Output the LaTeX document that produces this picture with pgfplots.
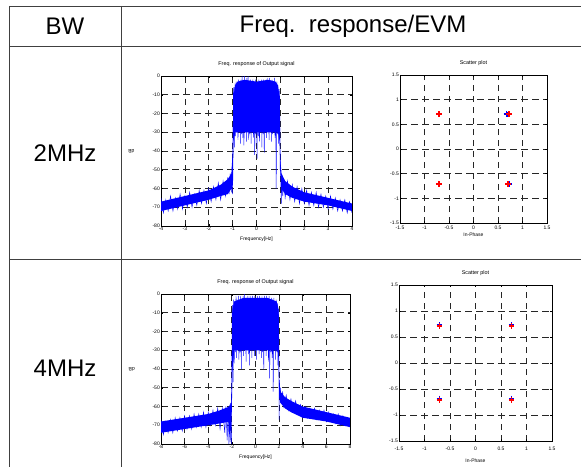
\documentclass[border=0pt]{standalone}
\usepackage{pgfplots}
\pgfplotsset{compat=1.18}
\usepackage{fontspec}
\setmainfont{Liberation Sans}
\def\tk{\fontsize{5}{6}\selectfont}
\def\tt{\fontsize{5.4}{6}\selectfont}
\pgfplotsset{
  mstyle/.style={
    scale only axis,
    axis line style={black, line width=0.9pt},
    grid=major,
    major grid style={black!85, line width=0.75pt, dash pattern=on 6.5pt off 4.5pt},
    tick style={black, line width=0.4pt},
    major tick length=2pt,
    tick align=inside,
    tick label style={font=\tk},
    xticklabel style={inner sep=1pt},
    yticklabel style={inner sep=1pt},
    title style={font=\tt, at={(axis description cs:0.5,1)}, anchor=south, yshift=2pt, inner sep=1pt},
    label style={font=\tk},
    clip=true,
  },
  freq/.style={
    mstyle,
    ymin=-80, ymax=0,
    ytick={-80,-70,-60,-50,-40,-30,-20,-10,0},
    yticklabels={-80,-70,-60,-50,-40,-30,-20,-10,0},
    title={Freq. response of Output signal},
    xlabel={Frequency[Hz]},
    xlabel style={at={(axis description cs:0.5,0)}, anchor=center, yshift=-13pt},
    ylabel style={at={(axis description cs:-0.155,0.5)}, anchor=center, rotate=90},
    ylabel={dB},
  },
  scat/.style={
    mstyle,
    xmin=-1.5, xmax=1.5, ymin=-1.5, ymax=1.5,
    xtick={-1.5,-1,-0.5,0,0.5,1,1.5},
    xticklabels={-1.5,-1,-0.5,0,0.5,1,1.5},
    ytick={-1.5,-1,-0.5,0,0.5,1,1.5},
    yticklabels={-1.5,-1,-0.5,0,0.5,1,1.5},
    title={Scatter plot},
    xlabel={In-Phase},
  },
}
\begin{document}
\begin{tikzpicture}[x=1pt,y=1pt]
\path[use as bounding box] (0,0) rectangle (586,467);
% table lines
\draw[line width=0.9pt, black!75]
  (9,461) -- (581,461)
  (9,421) -- (581,421)
  (9,208) -- (581,208)
  (9,461) -- (9,0)
  (121,461) -- (121,0);
\node[font=\fontsize{24}{28}\selectfont] at (65,441) {BW};
\node[font=\fontsize{24}{28}\selectfont] at (353,441) {Freq.\ \ response/EVM};
\node[font=\fontsize{24}{28}\selectfont] at (65,314) {2MHz};
\node[font=\fontsize{24}{28}\selectfont] at (65,99) {4MHz};

% ---------- plot 1: 2MHz spectrum ----------
\begin{axis}[freq, at={(161pt,241pt)}, anchor=south west, width=191pt, height=150pt,
  xmin=-4, xmax=4, xtick={-4,-3,-2,-1,0,1,2,3,4}, xticklabels={-4,-3,-2,-1,0,1,2,3,4}]
\addplot[fill=blue, draw=none] coordinates {
(-4,-67)(-3,-64)(-2,-61)(-1.5,-58)(-1.2,-55)(-1.05,-52)(-1.0,-40)(-0.97,-12)(-0.9,-5)(-0.8,-3)(-0.5,-2)(0,-3)(0.5,-2)(0.8,-3)(0.9,-5)(0.97,-12)(1.0,-45)(1.05,-52)(1.2,-56)(1.5,-59)(2,-62)(3,-65)(4,-68)
(4,-72)(3,-69)(2,-67)(1.5,-65)(1.2,-63)(1.05,-60)(1.0,-50)(0.97,-35)(0.9,-30)(0.5,-30)(0,-30)(-0.5,-30)(-0.9,-30)(-0.97,-35)(-1.0,-50)(-1.05,-60)(-1.2,-63)(-1.5,-64)(-2,-66)(-3,-69)(-4,-72)
} -- cycle;
\addplot[blue, line width=0.45pt] coordinates {
(-4.0,-65)(-3.9,-73)(-3.8,-66)(-3.7,-72)(-3.6,-64)(-3.5,-72)(-3.4,-65)(-3.3,-71)(-3.2,-63)(-3.1,-71)
(-3.0,-64)(-2.9,-70)(-2.8,-62)(-2.7,-70)(-2.6,-63)(-2.5,-69)(-2.4,-61)(-2.3,-68)(-2.2,-61)(-2.1,-68)
(-2.0,-60)(-1.9,-67)(-1.8,-59)(-1.7,-66)(-1.6,-57)(-1.5,-66)(-1.4,-56)(-1.3,-64)(-1.2,-54)(-1.15,-63)
(-1.1,-52)(-1.05,-62)(-1.02,-48)(-1.0,-63)(-0.98,-40)(-0.97,-10)
(-0.95,-6)(-0.925,-38)(-0.9,-4)(-0.875,-32)(-0.85,-3)(-0.825,-30)(-0.8,-5)(-0.775,-34)(-0.75,-2)(-0.725,-29)
(-0.7,-3)(-0.675,-36)(-0.65,-2)(-0.625,-31)(-0.6,0)(-0.575,-33)(-0.55,-4)(-0.525,-37)(-0.5,0)(-0.475,-30)
(-0.45,-3)(-0.425,-35)(-0.4,-1)(-0.375,-29)(-0.35,0)(-0.325,-34)(-0.3,-4)(-0.275,-31)(-0.25,-2)(-0.225,-36)
(-0.2,-5)(-0.175,-30)(-0.15,-2)(-0.125,-33)(-0.1,-4)(-0.075,-42)(-0.05,-2)(-0.025,-31)(0,-5)(0.025,-44)
(0.05,-3)(0.075,-32)(0.1,-2)(0.125,-35)(0.15,-4)(0.175,-30)(0.2,-2)(0.225,-38)(0.25,-3)(0.275,-31)
(0.3,-2)(0.325,-41)(0.35,-4)(0.375,-30)(0.4,-2)(0.425,-33)(0.45,-1)(0.475,-29)(0.5,-3)(0.525,-34)
(0.55,-1)(0.575,-30)(0.6,-4)(0.625,-35)(0.65,-2)(0.675,-31)(0.7,-3)(0.725,-30)(0.75,-1)(0.775,-33)
(0.8,-4)(0.825,-60)(0.85,-3)(0.875,-31)(0.9,-5)(0.925,-36)(0.95,-7)(0.97,-12)(0.99,-50)(1.0,-45)
(1.02,-56)(1.04,-68)(1.06,-54)(1.1,-64)(1.15,-55)(1.2,-65)(1.3,-56)(1.4,-66)(1.5,-58)(1.6,-67)
(1.7,-59)(1.8,-68)(1.9,-60)(2.0,-68)(2.1,-61)(2.2,-69)(2.3,-62)(2.4,-69)(2.5,-62)(2.6,-70)
(2.7,-63)(2.8,-70)(2.9,-64)(3.0,-71)(3.1,-64)(3.2,-71)(3.3,-65)(3.4,-72)(3.5,-66)(3.6,-72)
(3.7,-66)(3.8,-73)(3.9,-67)(4.0,-73)
};
\node[font=\tk, anchor=west] at (rel axis cs:0.92,-0.11) {x 10\textsuperscript{6}};
\end{axis}

% ---------- plot 2: 2MHz scatter ----------
\begin{axis}[scat, at={(400pt,244pt)}, anchor=south west, width=147pt, height=148pt,
  xticklabel style={yshift=-1.5pt},
  xlabel style={at={(axis description cs:0.5,0)}, anchor=center, yshift=-12pt}]
\addplot[only marks, mark=+, mark size=2.8pt, blue, line width=1.1pt] coordinates {
(0.67,0.71)(0.69,0.70)(-0.71,-0.70)(0.73,-0.71)(-0.70,0.71)
};
\addplot[only marks, mark=+, mark size=2.8pt, red, line width=1.5pt] coordinates {
(-0.707,0.707)(0.72,0.707)(-0.707,-0.707)(0.707,-0.707)
};
\end{axis}

% ---------- plot 3: 4MHz spectrum ----------
\begin{axis}[freq, at={(161pt,23pt)}, anchor=south west, width=189pt, height=150pt,
  xmin=-8, xmax=8, xtick={-8,-6,-4,-2,0,2,4,6,8}, xticklabels={-8,-6,-4,-2,0,2,4,6,8}]
\addplot[fill=blue, draw=none] coordinates {
(-8,-68)(-6,-66)(-4,-64)(-3,-62)(-2.2,-60)(-2.05,-58)(-2.0,-45)(-1.95,-8)(-1.8,-4)(-1,-2)(0,-2)(1,-2)(1.8,-4)(1.95,-8)(2.0,-45)(2.1,-52)(2.5,-55)(3,-57)(4,-60)(6,-63)(8,-66)
(8,-71)(6,-68)(4,-66)(3,-63)(2.5,-61)(2.1,-58)(2.0,-55)(1.95,-32)(1.8,-30)(0,-30)(-1.8,-30)(-1.95,-40)(-2.0,-60)(-2.1,-68)(-3,-69)(-4,-70)(-6,-72)(-8,-74)
} -- cycle;
\addplot[blue, line width=0.45pt] coordinates {
(-8.0,-67)(-7.8,-75)(-7.6,-68)(-7.4,-74)(-7.2,-67)(-7.0,-74)(-6.8,-66)(-6.6,-73)(-6.4,-66)(-6.2,-73)
(-6.0,-65)(-5.8,-72)(-5.6,-65)(-5.4,-72)(-5.2,-64)(-5.0,-71)(-4.8,-64)(-4.6,-71)(-4.4,-63)(-4.2,-71)
(-4.0,-63)(-3.8,-70)(-3.6,-62)(-3.4,-70)(-3.2,-61)(-3.0,-72)(-2.8,-61)(-2.6,-74)(-2.5,-60)(-2.4,-78)
(-2.3,-60)(-2.25,-80)(-2.2,-59)(-2.15,-79)(-2.1,-58)(-2.05,-80)(-2.02,-55)(-2.0,-48)(-1.98,-10)
(-1.95,-6)(-1.9,-47)(-1.85,-3)(-1.8,-37)(-1.75,-4)(-1.7,-31)(-1.65,-1)(-1.6,-34)(-1.55,-3)(-1.5,-30)
(-1.45,-1)(-1.4,-35)(-1.35,-4)(-1.3,-31)(-1.25,-1)(-1.2,-40)(-1.15,-3)(-1.1,-30)(-1.05,-1)(-1.0,-33)
(-0.95,0)(-0.9,-29)(-0.85,-3)(-0.8,-36)(-0.75,-2)(-0.7,-30)(-0.65,-1)(-0.6,-32)(-0.55,-4)(-0.5,-38)
(-0.45,-1)(-0.4,-30)(-0.35,-3)(-0.3,-34)(-0.25,-1)(-0.2,-29)(-0.15,-4)(-0.1,-33)(-0.05,-1)(0.0,-30)
(0.05,-3)(0.1,-35)(0.15,-1)(0.2,-29)(0.25,-4)(0.3,-32)(0.35,-1)(0.4,-30)(0.45,-3)(0.5,-34)
(0.55,-1)(0.6,-31)(0.65,-4)(0.7,-40)(0.75,-1)(0.8,-30)(0.85,-3)(0.9,-33)(0.95,-1)(1.0,-29)
(1.05,-3)(1.1,-36)(1.15,-1)(1.2,-45)(1.25,-4)(1.3,-31)(1.35,-2)(1.4,-34)(1.45,-3)(1.5,-52)
(1.55,-2)(1.6,-30)(1.65,-4)(1.7,-35)(1.75,-3)(1.8,-31)(1.85,-5)(1.9,-38)(1.95,-8)(1.98,-30)
(2.0,-67)(2.02,-46)(2.06,-55)(2.1,-50)(2.2,-58)(2.3,-52)(2.4,-60)(2.6,-54)(2.8,-62)(3.0,-56)
(3.2,-63)(3.4,-57)(3.6,-64)(3.8,-59)(4.0,-65)(4.2,-60)(4.4,-66)(4.6,-61)(4.8,-66)(5.0,-61)
(5.2,-67)(5.4,-62)(5.6,-67)(5.8,-62)(6.0,-68)(6.2,-63)(6.4,-68)(6.6,-64)(6.8,-69)(7.0,-64)
(7.2,-70)(7.4,-65)(7.6,-70)(7.8,-66)(8.0,-71)
};
\node[font=\tk, anchor=west] at (rel axis cs:0.95,-0.13) {x 10\textsuperscript{6}};
\end{axis}

% ---------- plot 4: 4MHz scatter ----------
\begin{axis}[scat, at={(399pt,26pt)}, anchor=south west, width=153pt, height=156pt,
  xticklabel style={yshift=-5pt},
  xlabel style={at={(axis description cs:0.5,0)}, anchor=center, yshift=-20pt}]
\addplot[only marks, mark=+, mark size=2.8pt, blue, line width=1.1pt] coordinates {
(-0.707,0.73)(0.707,0.73)(-0.707,-0.68)(0.707,-0.68)
};
\addplot[only marks, mark=+, mark size=2.8pt, red, line width=1.5pt] coordinates {
(-0.707,0.707)(0.707,0.707)(-0.707,-0.707)(0.707,-0.707)
};
\end{axis}
\end{tikzpicture}
\end{document}
